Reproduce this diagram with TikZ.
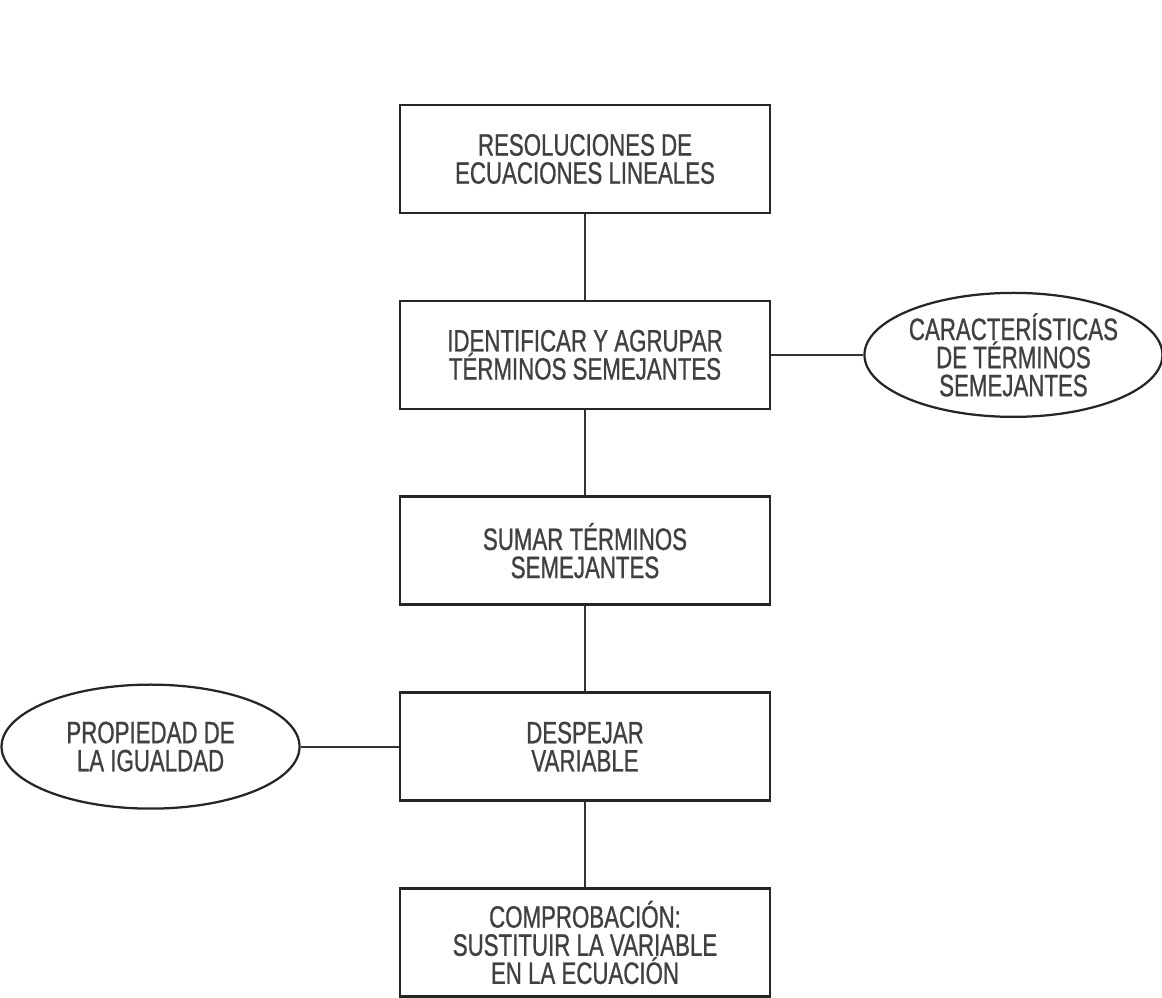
\documentclass[tikz,border=0pt]{standalone}
\usepackage{fontspec}
\setmainfont{Liberation Sans}[FakeStretch=0.72,FakeBold=0.8]
\usetikzlibrary{positioning,shapes.geometric}

\begin{document}
\begin{tikzpicture}[
  node distance=2.13cm,
  paso/.style={draw=black!85,line width=1.9pt,minimum width=9.25cm,minimum height=2.7cm,
    align=center,text=black!75,font=\fontsize{22}{20}\selectfont},
  idea/.style={draw=black!85,line width=1.6pt,ellipse,inner sep=0pt,minimum width=7.45cm,
    minimum height=3.1cm,align=center,text=black!75,font=\fontsize{22}{20}\selectfont},
  enlace/.style={black!80,line width=1.4pt}
]
  \useasboundingbox (0,0) rectangle (29.05,-24.95);

  \node[paso] (res) at (14.625,-3.975) {RESOLUCIONES DE\\ECUACIONES LINEALES};
  \node[paso,below=of res] (agr) {IDENTIFICAR Y AGRUPAR\\TÉRMINOS SEMEJANTES};
  \node[paso,below=of agr] (sum) {SUMAR TÉRMINOS\\SEMEJANTES};
  \node[paso,below=of sum] (desp) {DESPEJAR\\VARIABLE};
  \node[paso,below=of desp] (comp) {COMPROBACIÓN:\\SUSTITUIR LA VARIABLE\\EN LA ECUACIÓN};

  \node[idea,right=2.3cm of agr] (car) {CARACTERÍSTICAS\\DE TÉRMINOS\\SEMEJANTES};
  \node[idea,left=2.45cm of desp] (prop) {PROPIEDAD DE\\LA IGUALDAD};

  \draw[enlace] (res) -- (agr);
  \draw[enlace] (agr) -- (sum);
  \draw[enlace] (sum) -- (desp);
  \draw[enlace] (desp) -- (comp);
  \draw[enlace] (agr) -- (car);
  \draw[enlace] (prop) -- (desp);
\end{tikzpicture}
\end{document}
